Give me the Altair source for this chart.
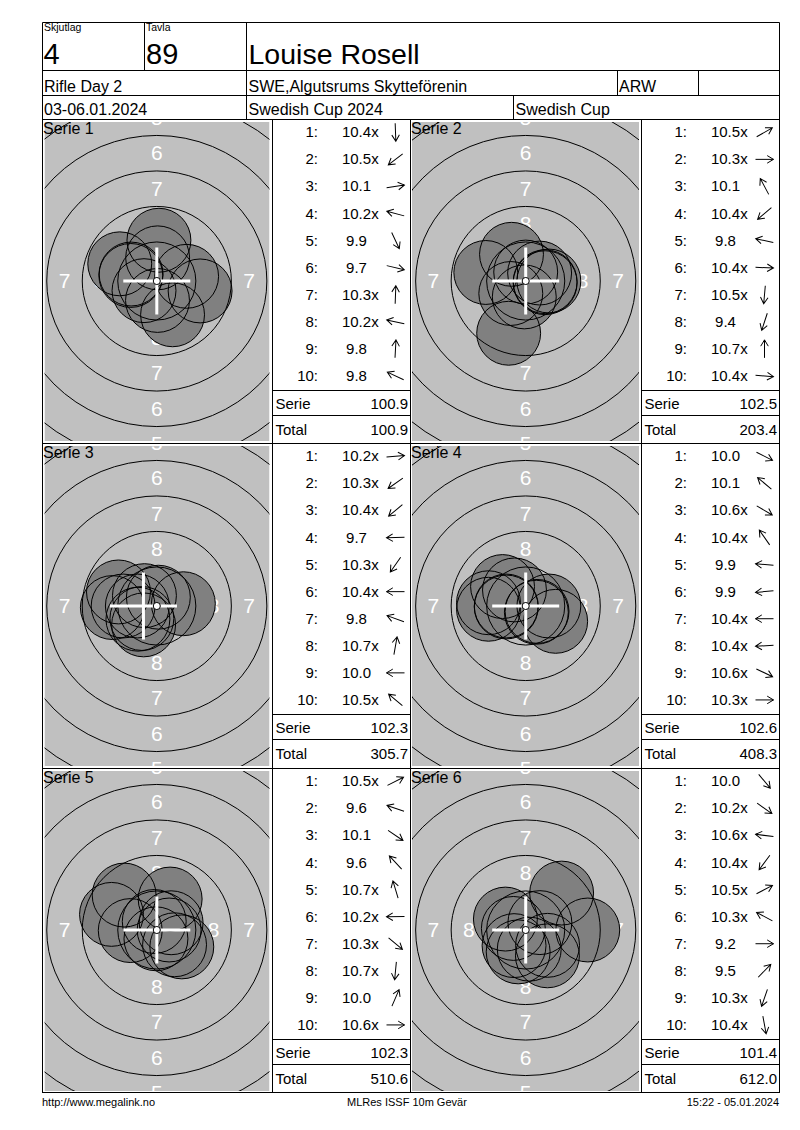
import altair as alt
import pandas as pd

FONT = "Liberation Sans"
GRAY = "#c0c0c0"
SHOT_FILL = "#808080"

# ---------------- header / footer texts ----------------
hdr_small = ["Skjutlag", "Tavla"]
hdr_big = ["4", "89", "Louise Rosell"]
hdr_row2 = ["Rifle Day 2", "SWE,Algutsrums Skytteförenin", "ARW"]
hdr_row3 = ["03-06.01.2024", "Swedish Cup 2024", "Swedish Cup"]
footer_texts = ["http://www.megalink.no", "MLRes ISSF 10m Gevär", "15:22 - 05.01.2024"]

# ---------------- results ----------------
series_no = [1, 2, 3, 4, 5, 6]
serie_sum = [100.9, 102.5, 102.3, 102.6, 102.3, 101.4]
running_total = [100.9, 203.4, 305.7, 408.3, 510.6, 612.0]

s1_score = [10.4, 10.5, 10.1, 10.2, 9.9, 9.7, 10.3, 10.2, 9.8, 9.8]
s1_inner = [1, 1, 0, 1, 0, 0, 1, 1, 0, 0]
s1_x = [0.05, -0.90, 2.10, -1.81, 1.11, 3.05, 0.06, -1.83, 0.15, -2.61]
s1_y = [-1.37, -0.68, 0.33, 0.49, -2.38, -0.70, 1.63, 0.39, 2.87, 1.21]

s2_score = [10.5, 10.3, 10.1, 10.4, 9.8, 10.4, 10.5, 9.4, 10.7, 10.4]
s2_inner = [1, 1, 0, 1, 0, 1, 1, 0, 1, 1]
s2_x = [0.98, 1.63, -1.00, -1.05, -2.81, 1.37, -0.10, -1.20, 0.00, 1.37]
s2_y = [0.56, 0.00, 1.88, -0.88, 0.60, -0.05, -1.12, -3.68, 0.63, -0.12]

s3_score = [10.2, 10.3, 10.4, 9.7, 10.3, 10.4, 9.8, 10.7, 10.0, 10.5]
s3_inner = [1, 1, 1, 0, 1, 1, 0, 1, 0, 1]
s3_x = [1.87, -1.33, -1.05, -3.13, -0.93, -1.37, -2.70, 0.11, -2.37, -0.87]
s3_y = [0.16, -0.93, -0.88, -0.11, -1.33, 0.00, 0.99, 0.62, 0.00, 0.73]

s4_score = [10.0, 10.1, 10.6, 10.4, 9.9, 9.9, 10.4, 10.4, 10.6, 10.3]
s4_inner = [0, 0, 1, 1, 0, 0, 1, 1, 1, 1]
s4_x = [2.11, -1.63, 0.75, -0.79, -2.62, -2.62, -1.37, -1.37, 0.80, 1.63]
s4_y = [-1.08, 1.37, -0.44, 1.13, 0.23, -0.23, 0.00, -0.07, -0.38, 0.00]

s5_score = [10.5, 9.6, 10.1, 9.6, 10.7, 10.2, 10.3, 10.7, 10.0, 10.6]
s5_inner = [1, 0, 0, 0, 1, 1, 1, 1, 0, 1]
s5_x = [1.01, -3.19, 1.76, -2.30, -0.18, -1.87, 1.25, -0.06, 0.94, 0.87]
s5_y = [0.51, 1.10, -1.19, 2.46, 0.60, -0.04, -1.04, -0.62, 2.18, 0.00]

s6_score = [10.0, 10.2, 10.6, 10.4, 10.5, 10.3, 9.2, 9.5, 10.3, 10.4]
s6_inner = [0, 1, 1, 1, 1, 1, 0, 0, 1, 1]
s6_x = [1.53, 1.54, -0.87, -0.82, 1.00, -1.43, 4.37, 2.53, -0.53, 0.25]
s6_y = [-1.82, -1.08, 0.11, -1.10, 0.52, 0.77, 0.00, 2.60, -1.54, -1.35]

# group-centre cross (mm from target centre)
mpi_x = [0.0, 0.0, -0.94, 0.0, 0.0, 0.0]
mpi_y = [0.0, 0.0, 0.0, 0.0, 0.0, 0.0]

ring_no = [4, 5, 6, 7, 8, 9]
ring_label_no = [5, 6, 7, 8]

# ---------------- build tables ----------------
K = 14.2  # px per mm
SHOT_SIZE = (2 * 2.25 * K) ** 2
TEN_SIZE = (2 * 0.25 * K) ** 2
ARROW_PATH = "M-1,0L1,0M0.3,-0.42L1,0L0.3,0.42"

_all = [
    (s1_score, s1_inner, s1_x, s1_y),
    (s2_score, s2_inner, s2_x, s2_y),
    (s3_score, s3_inner, s3_x, s3_y),
    (s4_score, s4_inner, s4_x, s4_y),
    (s5_score, s5_inner, s5_x, s5_y),
    (s6_score, s6_inner, s6_x, s6_y),
]
shots = pd.concat(
    [
        pd.DataFrame({"serie": s, "n": list(range(1, 11)), "score": sc, "inner": inn, "x": xx, "y": yy})
        for s, (sc, inn, xx, yy) in zip(series_no, _all)
    ],
    ignore_index=True,
)


def scales(x0, x1, y0, y1):
    xs = alt.Scale(domain=[x0, x1], nice=False, zero=False)
    ys = alt.Scale(domain=[y0, y1], nice=False, zero=False, reverse=True)
    return (lambda f: alt.X(f"{f}:Q", scale=xs, axis=None),
            lambda f: alt.Y(f"{f}:Q", scale=ys, axis=None))


def target_layers(X, Y, si, top, bottom, cx, cy, gx0, gx1):
    gy0, gy1 = top + 3, bottom - 2
    sd = shots[shots["serie"] == si]
    pos = dict(px=f"{cx} + datum.x * {K}", py=f"{cy} - datum.y * {K}")

    bg = alt.Chart(pd.DataFrame({"a": [gx0], "b": [gx1], "c": [gy0], "d": [gy1]})).mark_rect(
        color=GRAY).encode(x=X("a"), x2="b", y=Y("c"), y2="d")

    lab_df = pd.DataFrame([{"ring": n, "ux": ux, "uy": uy} for n in ring_label_no
                           for ux, uy in [(0, -1), (0, 1), (-1, 0), (1, 0)]])
    labels = alt.Chart(lab_df).transform_calculate(
        px=f"{cx} + datum.ux * (1.5 + 2.5 * (9 - datum.ring)) * {K}",
        py=f"{cy} + datum.uy * (1.5 + 2.5 * (9 - datum.ring)) * {K}",
    ).transform_filter(f"datum.px > {gx0 - 12} && datum.px < {gx1 + 12}").mark_text(
        font=FONT, fontSize=21, color="white", align="center", baseline="middle",
        dy=1, clip=True).encode(x=X("px"), y=Y("py"), text="ring:Q")

    fills = alt.Chart(sd).transform_calculate(**pos).mark_circle(
        size=SHOT_SIZE, color=SHOT_FILL, opacity=1).encode(x=X("px"), y=Y("py"))

    rings = alt.Chart(pd.DataFrame({"ring": ring_no})).transform_calculate(
        px=f"{cx}", py=f"{cy}", sz=f"pow(2 * (0.25 + 2.5 * (10 - datum.ring)) * {K}, 2)"
    ).mark_point(shape="circle", filled=False, color="black", strokeWidth=1, opacity=1,
                 clip=True).encode(x=X("px"), y=Y("py"), size=alt.Size("sz:Q", scale=None, legend=None))

    outlines = alt.Chart(sd).transform_calculate(**pos).mark_point(
        shape="circle", filled=False, color="black", strokeWidth=1, opacity=1, size=SHOT_SIZE
    ).encode(x=X("px"), y=Y("py"))

    mpi = pd.DataFrame({"x": [mpi_x[si - 1]], "y": [mpi_y[si - 1]]})
    cross_h = alt.Chart(mpi).transform_calculate(**pos).transform_calculate(
        a="datum.px - 33.5", b="datum.px + 33.5").mark_rule(color="white", strokeWidth=3).encode(
        x=X("a"), x2="b", y=Y("py"))
    cross_v = alt.Chart(mpi).transform_calculate(**pos).transform_calculate(
        a="datum.py - 33.5", b="datum.py + 33.5").mark_rule(color="white", strokeWidth=3).encode(
        x=X("px"), y=Y("a"), y2="b")

    ten = alt.Chart(pd.DataFrame({"ring": [10]})).transform_calculate(px=f"{cx}", py=f"{cy}").mark_point(
        shape="circle", filled=True, fill="white", stroke="black", strokeWidth=1, opacity=1, size=TEN_SIZE
    ).encode(x=X("px"), y=Y("py"))

    return [bg, labels, fills, rings, outlines, cross_h, cross_v, ten]


def table_layers(X, Y, si, top, tl, tr, label_x):
    sd = shots[shots["serie"] == si]
    rowy = f"{top} + 13.3 + 27.07 * (datum.n - 1)"
    nums = alt.Chart(sd).transform_calculate(lbl="datum.n + ':'", py=rowy, px=f"{tl + 45.5}").mark_text(
        font=FONT, fontSize=15, align="right", baseline="middle", color="black").encode(
        x=X("px"), y=Y("py"), text="lbl:N")
    vals = alt.Chart(sd).transform_calculate(py=rowy, px=f"{tl + 84}").mark_text(
        font=FONT, fontSize=15, align="center", baseline="middle", color="black").encode(
        x=X("px"), y=Y("py"), text=alt.Text("score:Q", format=".1f"))
    xmark = alt.Chart(sd).transform_filter("datum.inner == 1").transform_calculate(
        py=rowy, px=f"{tl + 98.8}", xm="'x'").mark_text(
        font=FONT, fontSize=15, align="left", baseline="middle", color="black").encode(
        x=X("px"), y=Y("py"), text="xm:N")
    arrows = alt.Chart(sd).transform_calculate(
        py=rowy, px=f"{tl + 123}", ang="(atan2(-datum.y, datum.x) * 180 / PI + 360) % 360"
    ).mark_point(shape=ARROW_PATH, filled=False, color="black", strokeWidth=1, opacity=1, size=324).encode(
        x=X("px"), y=Y("py"), angle=alt.Angle("ang:Q", scale=None))

    summ = pd.DataFrame({"lab": ["Serie", "Total"], "val": [serie_sum[si - 1], running_total[si - 1]],
                         "row": [0, 1]})
    sum_l = alt.Chart(summ).transform_calculate(px=f"{tl + 3}", py=f"{top} + 285 + 26 * datum.row").mark_text(
        font=FONT, fontSize=15, align="left", baseline="middle", color="black").encode(
        x=X("px"), y=Y("py"), text="lab:N")
    sum_r = alt.Chart(summ).transform_calculate(px=f"{tr - 2.5}", py=f"{top} + 285 + 26 * datum.row").mark_text(
        font=FONT, fontSize=15, align="right", baseline="middle", color="black").encode(
        x=X("px"), y=Y("py"), text=alt.Text("val:Q", format=".1f"))

    slab = alt.Chart(pd.DataFrame({"serie": [si]})).transform_calculate(
        lbl="'Serie ' + datum.serie", px=f"{label_x}", py=f"{top + 15}").mark_text(
        font=FONT, fontSize=16, align="left", baseline="alphabetic", color="black").encode(
        x=X("px"), y=Y("py"), text="lbl:N")
    return [nums, vals, xmark, arrows, sum_l, sum_r, slab]


# layout of one row (page pixels)
X0, X1 = 8, 792
LG = (44.5, 269.5)      # left target grey area
RG = (412, 639)         # right target grey area
LCX, RCX = 156.8, 525.7
VLINES = [42.5, 272.5, 410.5, 641.5, 779.5]


def row_chart(r, top, bottom, cy, last):
    X, Y = scales(X0, X1, top, bottom)
    sl, sr = 2 * r + 1, 2 * r + 2
    gy0, gy1 = top + 3, bottom - 2
    layers = []
    layers += target_layers(X, Y, sl, top, bottom, LCX, cy, *LG)
    layers += target_layers(X, Y, sr, top, bottom, RCX, cy, *RG)
    masks = alt.Chart(pd.DataFrame({
        "a": [X0, LG[1], RG[1], LG[0], LG[0], RG[0], RG[0]],
        "b": [LG[0], RG[0], X1, LG[1], LG[1], RG[1], RG[1]],
        "c": [top, top, top, top, gy1, top, gy1],
        "d": [bottom, bottom, bottom, gy0, bottom, gy0, bottom],
    })).mark_rect(color="white").encode(x=X("a"), x2="b", y=Y("c"), y2="d")
    layers.append(masks)
    segs = [(v, v, top, bottom) for v in VLINES]
    segs += [(VLINES[0], VLINES[-1], top + 0.5, top + 0.5)]
    for tl, tr in [(VLINES[1], VLINES[2]), (VLINES[3], VLINES[4])]:
        segs += [(tl, tr, top + 271.5, top + 271.5), (tl, tr, top + 296.5, top + 296.5)]
    if last:
        segs.append((VLINES[0], VLINES[-1], bottom - 0.5, bottom - 0.5))
    lines = alt.Chart(pd.DataFrame(segs, columns=["a", "b", "c", "d"])).mark_rule(
        color="black", strokeWidth=1).encode(x=X("a"), x2="b", y=Y("c"), y2="d")
    layers.append(lines)
    layers += table_layers(X, Y, sl, top, VLINES[1], VLINES[2], VLINES[0] + 0.5)
    layers += table_layers(X, Y, sr, top, VLINES[3], VLINES[4], VLINES[2] + 0.5)
    return alt.layer(*layers).properties(width=X1 - X0, height=bottom - top)


def header_chart():
    X, Y = scales(8, 792, 8, 119)
    segs = pd.DataFrame([
        (42.5, 779.5, 22.5, 22.5),
        (42.5, 779.5, 70.5, 70.5),
        (42.5, 779.5, 95.5, 95.5),
        (42.5, 42.5, 22.5, 119),
        (779.5, 779.5, 22.5, 119),
        (144.5, 144.5, 22.5, 70.5),
        (246.5, 246.5, 22.5, 119),
        (617.5, 617.5, 70.5, 95.5),
        (698.5, 698.5, 70.5, 95.5),
        (513.5, 513.5, 95.5, 119),
    ], columns=["a", "b", "c", "d"])
    lines = alt.Chart(segs).mark_rule(color="black", strokeWidth=1).encode(
        x=X("a"), x2="b", y=Y("c"), y2="d")
    txt = pd.DataFrame({
        "t": hdr_small + hdr_big + hdr_row2 + hdr_row3,
        "x": [44, 146, 43.5, 146, 248.5, 44, 248.5, 619, 44, 248.5, 515.5],
        "y": [31, 31, 63.5, 63.5, 63.5, 92, 92, 92, 115, 115, 115],
        "fs": [10.5, 10.5, 29, 29, 28.5, 16, 16, 16, 16, 16, 16],
    })
    texts = alt.Chart(txt).mark_text(font=FONT, align="left", baseline="alphabetic", color="black").encode(
        x=X("x"), y=Y("y"), text="t:N", size=alt.Size("fs:Q", scale=None, legend=None))
    return alt.layer(lines, texts).properties(width=784, height=111)


def footer_chart():
    X, Y = scales(8, 792, 1093, 1122)
    left = pd.DataFrame({"t": footer_texts[:2], "x": [42, 347], "y": [1102.5, 1102.5]})
    right = pd.DataFrame({"t": footer_texts[2:], "x": [779], "y": [1102.5]})
    l1 = alt.Chart(left).mark_text(font=FONT, fontSize=11, align="left", baseline="middle", color="black").encode(
        x=X("x"), y=Y("y"), text="t:N")
    l2 = alt.Chart(right).mark_text(font=FONT, fontSize=11, align="right", baseline="middle", color="black").encode(
        x=X("x"), y=Y("y"), text="t:N")
    return alt.layer(l1, l2).properties(width=784, height=29)


ROW_TOPS = [119, 443, 768, 1093]
ROW_CY = [281, 606, 930]
rows = [row_chart(r, ROW_TOPS[r], ROW_TOPS[r + 1], ROW_CY[r], r == 2) for r in range(3)]

chart = alt.vconcat(header_chart(), *rows, footer_chart(), spacing=0, bounds="flush", padding=0)
chart = chart.configure_view(strokeWidth=0).configure_concat(spacing=0)
chart.save("out.html", embed_options={"renderer": "svg", "actions": False})
